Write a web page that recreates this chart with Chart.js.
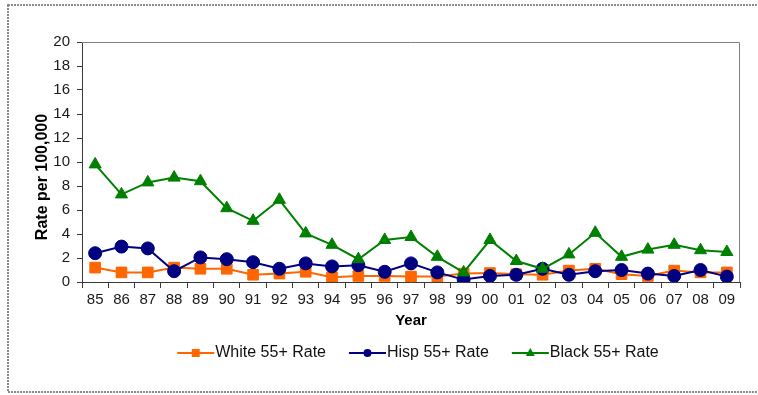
<!DOCTYPE html>
<html>
<head>
<meta charset="utf-8">
<script src="https://cdn.jsdelivr.net/npm/chart.js"></script>
<style>
  html, body { margin: 0; padding: 0; background: #fff; }
  #wrap { width: 758px; height: 395px; }
</style>
</head>
<body>
<div id="wrap"><canvas id="rateChart" width="758" height="395"></canvas></div>
<script>
const years = ["85", "86", "87", "88", "89", "90", "91", "92", "93", "94", "95", "96", "97",
  "98", "99", "00", "01", "02", "03", "04", "05", "06", "07", "08", "09"];
const whiteRate = [1.2, 0.8, 0.8, 1.2, 1.1, 1.1, 0.6, 0.7, 0.85, 0.4, 0.5, 0.5, 0.45,
  0.45, 0.7, 0.75, 0.65, 0.6, 0.95, 1.1, 0.65, 0.5, 0.95, 0.8, 0.8];
const hispRate = [2.4, 2.95, 2.8, 0.9, 2.05, 1.9, 1.65, 1.1, 1.55, 1.3, 1.4, 0.85, 1.55,
  0.8, 0.2, 0.5, 0.6, 1.1, 0.6, 0.9, 1.0, 0.7, 0.5, 1.0, 0.45];
const blackRate = [9.8, 7.3, 8.3, 8.7, 8.4, 6.15, 5.1, 6.85, 4.05, 3.1, 1.9, 3.5, 3.75,
  2.1, 0.8, 3.5, 1.75, 1.1, 2.3, 4.1, 2.1, 2.7, 3.1, 2.65, 2.5];
const yMin = 0, yMax = 20, yStep = 2;

const FONT = "'Liberation Sans', Arial, sans-serif";
const axisColor = "#3a3a3a";

// frame, plot border, y title and the legend (line + marker, Excel style)
const decor = {
  id: "decor",
  beforeDraw(chart) {
    const ctx = chart.ctx;
    ctx.save();
    ctx.fillStyle = "#fff";
    ctx.fillRect(0, 0, chart.width, chart.height);
    ctx.strokeStyle = "#8c8c8c";
    ctx.lineWidth = 2;
    ctx.setLineDash([2, 1]);
    ctx.strokeRect(8, 5, 760, 387);
    ctx.restore();
  },
  beforeDatasetsDraw(chart) {
    const { ctx, chartArea: a } = chart;
    ctx.save();
    ctx.strokeStyle = "#808080";
    ctx.lineWidth = 1;
    ctx.beginPath();
    ctx.moveTo(a.left, a.top + 0.5);
    ctx.lineTo(a.right - 0.5, a.top + 0.5);
    ctx.lineTo(a.right - 0.5, a.bottom);
    ctx.stroke();
    ctx.restore();
  },
  afterDraw(chart) {
    const ctx = chart.ctx;
    ctx.save();
    // y axis title
    ctx.translate(43, 177);
    ctx.rotate(-Math.PI / 2);
    ctx.font = "bold 16px " + FONT;
    ctx.fillStyle = "#000";
    ctx.textAlign = "center";
    ctx.textBaseline = "middle";
    ctx.fillText("Rate per 100,000", 0, 0);
    ctx.restore();

    // legend
    ctx.save();
    ctx.font = "16px " + FONT;
    ctx.textBaseline = "middle";
    const lineLen = 37, gap = 23, y = 353;
    const items = [0, 1, 2].map(i => chart.data.datasets[i]);
    const widths = items.map(ds => lineLen + 1 + ctx.measureText(ds.label).width);
    const total = widths.reduce((s, w) => s + w, 0) + gap * (items.length - 1);
    let x = 418 - total / 2;
    items.forEach((ds, i) => {
      ctx.strokeStyle = ds.borderColor;
      ctx.lineWidth = 2;
      ctx.beginPath();
      ctx.moveTo(x, y);
      ctx.lineTo(x + lineLen, y);
      ctx.stroke();
      const cx = x + lineLen / 2;
      ctx.fillStyle = ds.pointBackgroundColor;
      ctx.beginPath();
      if (ds.pointStyle === "rect") {
        ctx.rect(cx - 4, y - 4, 8, 8);
      } else if (ds.pointStyle === "circle") {
        ctx.arc(cx, y, 4, 0, Math.PI * 2);
      } else {
        ctx.moveTo(cx, y - 5);
        ctx.lineTo(cx + 4.5, y + 3);
        ctx.lineTo(cx - 4.5, y + 3);
        ctx.closePath();
      }
      ctx.fill();
      ctx.fillStyle = "#111";
      ctx.fillText(ds.label, x + lineLen + 1, y);
      x += widths[i] + gap;
    });
    ctx.restore();
  }
};

new Chart(document.getElementById("rateChart").getContext("2d"), {
  type: "line",
  data: {
    labels: years,
    datasets: [
      {
        label: "White 55+ Rate",
        data: whiteRate,
        borderColor: "#ff6600",
        backgroundColor: "#ff6600",
        pointBackgroundColor: "#ff6600",
        pointBorderColor: "#ff6600",
        pointStyle: "rect",
        pointRadius: 7.5,
        borderWidth: 2,
        pointBorderWidth: 1,
        order: 2
      },
      {
        label: "Hisp 55+ Rate",
        data: hispRate,
        borderColor: "#000080",
        backgroundColor: "#000080",
        pointBackgroundColor: "#000080",
        pointBorderColor: "#000080",
        pointStyle: "circle",
        pointRadius: 6.5,
        borderWidth: 2,
        pointBorderWidth: 1,
        order: 1
      },
      {
        label: "Black 55+ Rate",
        data: blackRate,
        borderColor: "#008000",
        backgroundColor: "#008000",
        pointBackgroundColor: "#008000",
        pointBorderColor: "#008000",
        pointStyle: "triangle",
        pointRadius: 7,
        borderWidth: 2,
        pointBorderWidth: 1,
        order: 0
      }
    ]
  },
  options: {
    responsive: false,
    animation: false,
    devicePixelRatio: 1,
    layout: { padding: { top: 42, right: 18, bottom: 63, left: 0 } },
    plugins: {
      legend: { display: false },
      tooltip: { enabled: false }
    },
    elements: { line: { tension: 0, fill: false } },
    scales: {
      x: {
        type: "category",
        offset: true,
        grid: {
          offset: true,
          drawOnChartArea: false,
          drawTicks: true,
          tickLength: 6,
          color: axisColor
        },
        border: { color: axisColor, width: 1 },
        ticks: {
          autoSkip: false,
          maxRotation: 0,
          padding: 3,
          color: "#1a1a1a",
          font: { family: FONT, size: 15 }
        },
        title: {
          display: true,
          text: "Year",
          color: "#000",
          font: { family: FONT, size: 15, weight: "bold" },
          padding: { top: 0, bottom: 2 }
        },
        afterFit(scale) { scale.height = 50; }
      },
      y: {
        min: yMin,
        max: yMax,
        grid: {
          drawOnChartArea: false,
          drawTicks: true,
          tickLength: 5,
          color: axisColor
        },
        border: { color: axisColor, width: 1 },
        ticks: {
          stepSize: yStep,
          padding: 7,
          color: "#1a1a1a",
          font: { family: FONT, size: 15 }
        },
        afterFit(scale) { scale.width = 82; }
      }
    }
  },
  plugins: [decor]
});
</script>
</body>
</html>
